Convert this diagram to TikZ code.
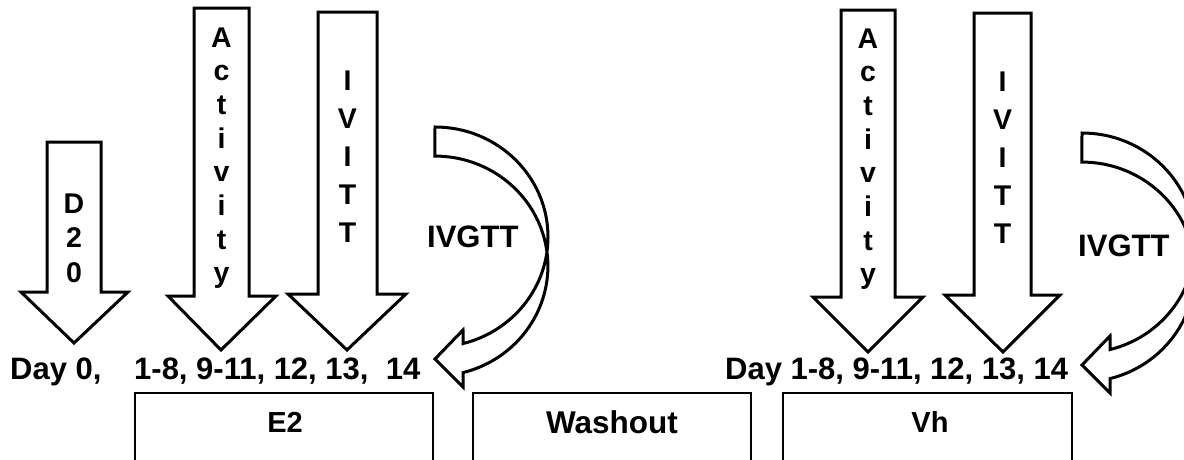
\documentclass[tikz,border=0pt]{standalone}
\usepackage{fontspec}
\setmainfont{Liberation Sans}
\begin{document}
\begin{tikzpicture}[x=1pt,y=-1pt,
  blk/.style={draw=black, line width=3pt, fill=white, line join=miter, miter limit=20},
  boxst/.style={draw=black, line width=2.5pt},
  lett/.style={font=\fontsize{28.5}{28.5}\selectfont\bfseries, anchor=base, inner sep=0pt},
  lbl/.style={font=\fontsize{31}{31}\selectfont\bfseries, anchor=base west, inner sep=0pt},
  boxlbl/.style={font=\fontsize{29}{29}\selectfont\bfseries, anchor=base, inner sep=0pt}]
\useasboundingbox (0,0) rectangle (1184,459);
\clip (0,0) rectangle (1184,459);
\fill[white] (0,0) rectangle (1184,459);

% block arrows (left group)
\draw[blk] (47,142) -- (101,142) -- (101,292) -- (128,292) -- (74,343) -- (21,292) -- (47,292) -- cycle;
\draw[blk] (194,8) -- (249,8) -- (249,296) -- (276,296) -- (221,350) -- (168,296) -- (194,296) -- cycle;
\draw[blk] (318,12) -- (377,12) -- (377,294) -- (406,294) -- (347,350) -- (288,294) -- (318,294) -- cycle;
% block arrows (right group)
\draw[blk] (841,10) -- (895,10) -- (895,297) -- (923,297) -- (868,352) -- (813,297) -- (841,297) -- cycle;
\draw[blk] (974,13) -- (1031,13) -- (1031,295) -- (1060,295) -- (1003,352) -- (945,295) -- (974,295) -- cycle;

% curved arrows
\draw[blk] (435,127) arc[start angle=-90, end angle=75.6, x radius=113, y radius=110]
  -- (463,330) -- (435,359) -- (463,387) -- (463,372.6)
  arc[start angle=75.6, end angle=-90, x radius=113, y radius=110] -- cycle;
\begin{scope}[shift={(647,6)}]
\draw[blk] (435,127) arc[start angle=-90, end angle=75.6, x radius=113, y radius=110]
  -- (463,330) -- (435,359) -- (463,387) -- (463,372.6)
  arc[start angle=75.6, end angle=-90, x radius=113, y radius=110] -- cycle;
\end{scope}

% letters in arrows
\foreach \l [count=\i] in {D,2,0}
  \node[lett] (dtwo\i) at (74,213+34.5*\i-34.5) {\l};
\foreach \l [count=\i] in {A,c,t,i,v,i,t,y}
  \node[lett] (actL\i) at (221.5,47+33.7*\i-33.7) {\l};
\foreach \l [count=\i] in {I,V,I,T,T}
  \node[lett] (ivittL\i) at (347.5,90+38*\i-38) {\l};
\foreach \l [count=\i] in {A,c,t,i,v,i,t,y}
  \node[lett] (actR\i) at (868,48+33.7*\i-33.7) {\l};
\foreach \l [count=\i] in {I,V,I,T,T}
  \node[lett] (ivittR\i) at (1002.5,91.5+38*\i-38) {\l};

% IVGTT labels
\node[lbl] (ivgttL) at (427,247) {IVGTT};
\node[lbl] (ivgttR) at (1078,256) {IVGTT};

% day texts
\node[lbl] (day0) at (10,379) {Day 0,};
\node[lbl] (daysL) at (134,379) {1-8, 9-11, 12, 13,~ 14};
\node[lbl] (daysR) at (725,379) {Day 1-8, 9-11, 12, 13, 14};

% boxes
\draw[boxst] (135,393) rectangle (433,480);
\draw[boxst] (473,393) rectangle (751,480);
\draw[boxst] (783,393) rectangle (1072,480);
\node[boxlbl] (e2) at (285,432) {E2};
\node[boxlbl, font=\fontsize{31.5}{31.5}\selectfont\bfseries] (wash) at (612,433) {Washout};
\node[boxlbl] (vh) at (930,432) {Vh};
\end{tikzpicture}
\end{document}
